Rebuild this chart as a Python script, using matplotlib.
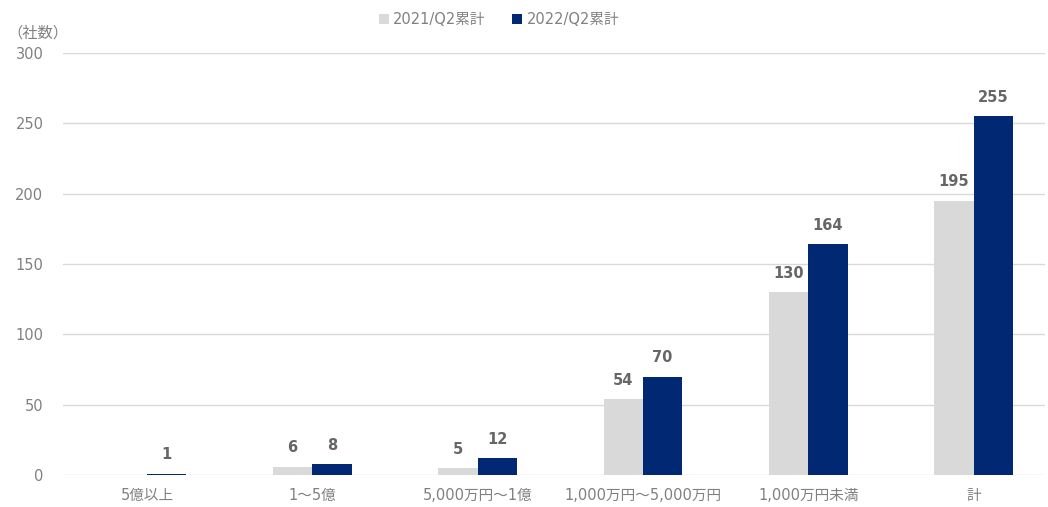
import matplotlib
matplotlib.use("Agg")
import matplotlib.pyplot as plt
import numpy as np

plt.rcParams['font.family'] = ['DejaVu Sans', 'Noto Sans CJK JP']

categories = ["5億以上", "1～5億", "5,000万円～1億", "1,000万円～5,000万円", "1,000万円未満", "計"]
series_names = ["2021/Q2累計", "2022/Q2累計"]
values_2021 = [0, 6, 5, 54, 130, 195]
values_2022 = [1, 8, 12, 70, 164, 255]
yticks = [0, 50, 100, 150, 200, 250, 300]

colors = ["#D9D9D9", "#002873"]
tick_color = "#808080"
label_color = "#666666"

fig = plt.figure(figsize=(10.48, 5.07), dpi=100)
ax = fig.add_axes([0.060, 0.0631, 0.937, 0.8324])

x = np.arange(len(categories))
w = 0.238
for i, (vals, c, name) in enumerate(zip([values_2021, values_2022], colors, series_names)):
    offs = (i - 0.5) * w
    ax.bar(x + offs, vals, width=w, color=c, label=name, zorder=3)
    for xi, v in zip(x, vals):
        if v > 0:
            ax.text(xi + offs, v + 8, str(v), ha='center', va='bottom',
                    fontsize=10.5, fontweight='bold', color=label_color, zorder=4)

ax.set_ylim(0, 300)
ax.set_xlim(-0.508, 5.43)
ax.set_yticks(yticks)
ax.set_yticklabels([str(t) for t in yticks])
ax.set_xticks(x)
ax.set_xticklabels(categories)
ax.tick_params(axis='both', length=0, colors=tick_color, labelsize=10.5)
ax.tick_params(axis='x', pad=9)
ax.tick_params(axis='y', pad=14)
ax.grid(axis='y', color='#D9D9D9', linewidth=1, zorder=0)
for s in ax.spines.values():
    s.set_visible(False)

fig.text(0.036, 0.935, "（社数）", ha='center', va='center', fontsize=11, color=tick_color)

leg = fig.legend(loc='center', bbox_to_anchor=(0.476, 0.962), ncol=2, frameon=False,
                 fontsize=10.5, handlelength=0.7, handleheight=0.7, handletextpad=0.3,
                 columnspacing=1.8, labelcolor=tick_color)

fig.savefig("out.png", dpi=100)
